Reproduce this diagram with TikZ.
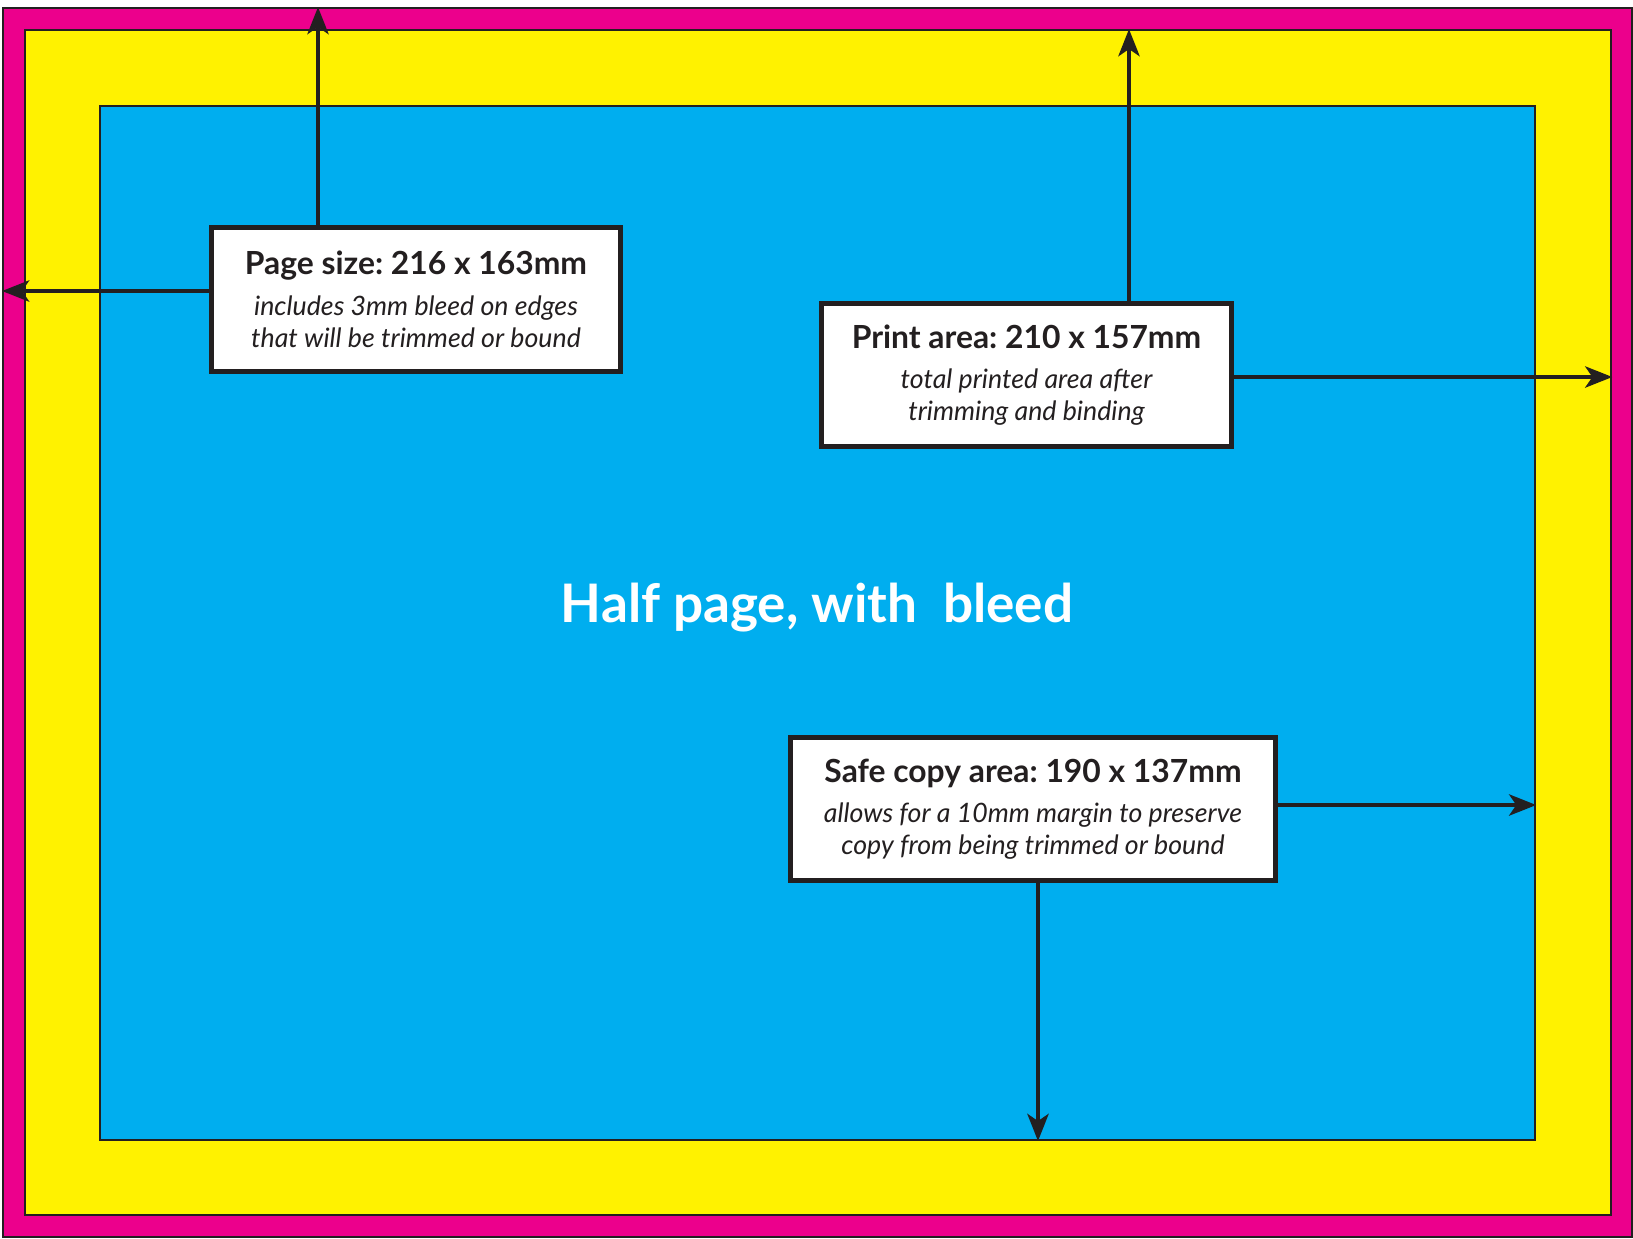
\documentclass[tikz,border=0pt]{standalone}
\usepackage{fontspec}
\setmainfont{Lato}
\usepackage{tikz}
\usetikzlibrary{arrows.meta, positioning}
\definecolor{bleedpink}{HTML}{EC008C}
\definecolor{trimyellow}{HTML}{FFF200}
\definecolor{safeblue}{HTML}{00AEEF}
\definecolor{inkdark}{HTML}{231F20}
\frenchspacing
\tikzset{
  area/.style={draw=inkdark, line width=0.7pt, inner sep=0pt},
  infobox/.style={draw=inkdark, fill=white, line width=1.4pt, align=center,
    inner sep=0pt, text=inkdark, font=\fontsize{7.6}{9.1}\selectfont\itshape},
  dimarrow/.style={draw=inkdark, line width=1.4pt,
    -{Stealth[length=0.27cm, width=0.21cm, inset=0.07cm]}},
}
\newcommand{\boxhead}[1]{{\fontsize{9.05}{9.1}\selectfont\bfseries\upshape #1}}

\begin{document}
\begin{tikzpicture}[x=0.01cm, y=-0.01cm]
  \useasboundingbox[fill=white] (0,0) rectangle (1633,1238);

  % the three areas, pixel coordinates
  \node[area, fill=bleedpink, minimum width=16.28cm, minimum height=12.28cm,
    anchor=north west] (page) at (2,7) {};
  \node[area, fill=trimyellow, minimum width=15.85cm, minimum height=11.84cm,
    anchor=north west] (print) at (24,29) {};
  \node[area, fill=safeblue, minimum width=14.34cm, minimum height=10.33cm,
    anchor=north west] (safe) at (99,105) {};

  \node[text=white, font=\fontsize{15.1}{18}\selectfont\bfseries]
    (title) at (817,608) {Half page, with\ \ bleed};

  % labels
  \node[infobox, minimum width=4.09cm, minimum height=1.44cm]
    (sizebox) at (416,299.5)
    {\boxhead{Page size: 216 x 163mm}\\[2.4pt]
     includes 3mm bleed on edges\\
     that will be trimmed or bound};

  \node[infobox, minimum width=4.10cm, minimum height=1.43cm]
    (printbox) at (1026.5,375)
    {\boxhead{Print area: 210 x 157mm}\\[2.4pt]
     total printed area after\\
     trimming and binding};

  \node[infobox, minimum width=4.85cm, minimum height=1.43cm]
    (safebox) at (1033,809)
    {\boxhead{Safe copy area: 190 x 137mm}\\[2.4pt]
     allows for a 10mm margin to preserve\\
     copy from being trimmed or bound};

  % dimension arrows
  \draw[dimarrow] (sizebox.north -| 318,0) -- (page.north -| 318,0);
  \draw[dimarrow] (sizebox.west |- 0,291) -- (page.west |- 0,291);

  \draw[dimarrow] (printbox.north -| 1129,0) -- (print.north -| 1129,0);
  \draw[dimarrow] (printbox.east |- 0,377) -- (print.east |- 0,377);

  \draw[dimarrow] (safebox.south -| 1038,0) -- (safe.south -| 1038,0);
  \draw[dimarrow] (safebox.east |- 0,805) -- (safe.east |- 0,805);
\end{tikzpicture}
\end{document}
